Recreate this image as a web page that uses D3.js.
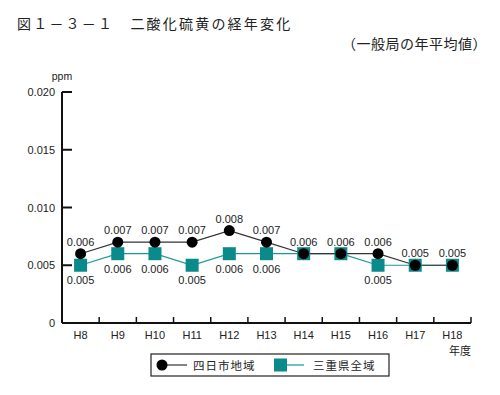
<!DOCTYPE html>
<html>
<head>
<meta charset="utf-8">
<script src="https://cdn.jsdelivr.net/npm/d3@7"></script>
<style>
	body{margin:0;background:#fff;}
	svg{display:block;}
	text{font-family:'Liberation Sans',Arial,sans-serif;fill:#222;}
	.jp{font-family:'Noto Sans CJK JP',sans-serif;}
</style>
</head>
<body>
<svg id="chart" width="500" height="395"></svg>
<script>
const years = ['H8','H9','H10','H11','H12','H13','H14','H15','H16','H17','H18']
const yokkaichi = [0.006,0.007,0.007,0.007,0.008,0.007,0.006,0.006,0.006,0.005,0.005]
const mie = [0.005,0.006,0.006,0.005,0.006,0.006,0.006,0.006,0.005,0.005,0.005]
const yTicks = [0,0.005,0.010,0.015,0.020]
const seriesNames = ['四日市地域','三重県全域']

const svg = d3.select('#chart')

/*titles*/
svg.append('text').classed('jp',true)
	.attr('x',17).attr('y',29)
	.attr('font-size',14).attr('fill','#333')
	.attr('letter-spacing',2.2)
	.text('図１－３－１　二酸化硫黄の経年変化')
svg.append('text').classed('jp',true)
	.attr('x',487).attr('y',49)
	.attr('text-anchor','end')
	.attr('font-size',14).attr('fill','#333')
	.attr('letter-spacing',0.5)
	.text('（一般局の年平均値）')

const xScale = d3.scaleBand()
	.domain(years)
	.range([62,471])

const yScale = d3.scaleLinear()
	.domain([0,0.020])
	.range([323,92])

const cx = y => xScale(y) + xScale.bandwidth()/2

const chart = svg.append('g')

/*y axis*/
chart.append('line')
	.attr('x1',62).attr('x2',62)
	.attr('y1',yScale(0.020)).attr('y2',yScale(0))
	.attr('stroke','#111').attr('stroke-width',2)

chart.selectAll('.ytick')
	.data(yTicks.slice(1))
	.enter()
	.append('line')
	.attr('x1',62).attr('x2',72)
	.attr('y1',d => yScale(d)).attr('y2',d => yScale(d))
	.attr('stroke','#111').attr('stroke-width',2)

chart.selectAll('.ylabel')
	.data(yTicks)
	.enter()
	.append('text')
	.attr('x',55)
	.attr('y',d => yScale(d) + 4)
	.attr('text-anchor','end')
	.attr('font-size',11)
	.text(d => d === 0 ? '0' : d3.format('.3f')(d))

chart.append('text')
	.attr('x',62).attr('y',80)
	.attr('text-anchor','middle')
	.attr('font-size',10.5)
	.text('ppm')

/*x axis*/
chart.append('line')
	.attr('x1',62).attr('x2',471)
	.attr('y1',yScale(0)).attr('y2',yScale(0))
	.attr('stroke','#111').attr('stroke-width',2)

chart.selectAll('.xtick')
	.data(years.slice(1).concat(['end']))
	.enter()
	.append('line')
	.attr('x1',d => d === 'end' ? 471 : xScale(d))
	.attr('x2',d => d === 'end' ? 471 : xScale(d))
	.attr('y1',yScale(0)).attr('y2',yScale(0) - 6)
	.attr('stroke','#111').attr('stroke-width',1.5)

chart.selectAll('.xlabel')
	.data(years)
	.enter()
	.append('text')
	.attr('x',d => cx(d))
	.attr('y',339)
	.attr('text-anchor','middle')
	.attr('font-size',11)
	.text(d => d)

chart.append('text').classed('jp',true)
	.attr('x',460).attr('y',355)
	.attr('text-anchor','middle')
	.attr('font-size',11)
	.text('年度')

/*lines*/
const line = (vals) => d3.line()
	.x((d,i) => cx(years[i]))
	.y(d => yScale(d))(vals)

chart.append('path')
	.attr('d',line(mie))
	.attr('fill','none')
	.attr('stroke','#1a9a9a').attr('stroke-width',1.2)

chart.append('path')
	.attr('d',line(yokkaichi))
	.attr('fill','none')
	.attr('stroke','#333').attr('stroke-width',1.2)

chart.selectAll('.sq')
	.data(mie)
	.enter()
	.append('rect')
	.attr('x',(d,i) => cx(years[i]) - 6.5)
	.attr('y',d => yScale(d) - 6.5)
	.attr('width',13).attr('height',13)
	.attr('fill','#0a8a8a')

chart.selectAll('.dot')
	.data(yokkaichi)
	.enter()
	.append('circle')
	.attr('cx',(d,i) => cx(years[i]))
	.attr('cy',d => yScale(d))
	.attr('r',5.5)
	.attr('fill','#000')

/*value labels*/
chart.selectAll('.lab1')
	.data(yokkaichi)
	.enter()
	.append('text')
	.attr('x',(d,i) => cx(years[i]))
	.attr('y',d => yScale(d) - 8)
	.attr('text-anchor','middle')
	.attr('font-size',11)
	.text(d => d3.format('.3f')(d))

chart.selectAll('.lab2')
	.data(mie.map((v,i) => ({v:v,i:i})).filter(d => d.v !== yokkaichi[d.i]))
	.enter()
	.append('text')
	.attr('x',d => cx(years[d.i]))
	.attr('y',d => yScale(d.v) + 19)
	.attr('text-anchor','middle')
	.attr('font-size',11)
	.text(d => d3.format('.3f')(d.v))

/*legend*/
const legend = svg.append('g')
legend.append('rect')
	.attr('x',151).attr('y',354)
	.attr('width',238).attr('height',22)
	.attr('fill','#fff').attr('stroke','#222').attr('stroke-width',1.2)

legend.append('line')
	.attr('x1',162).attr('x2',187).attr('y1',365).attr('y2',365)
	.attr('stroke','#333').attr('stroke-width',1.2)
legend.append('circle')
	.attr('cx',162).attr('cy',365).attr('r',5.5).attr('fill','#000')
legend.append('text').classed('jp',true)
	.attr('x',193).attr('y',369.5)
	.attr('font-size',11.5).attr('fill','#444')
	.attr('letter-spacing',1)
	.text(seriesNames[0])

legend.append('line')
	.attr('x1',281).attr('x2',304).attr('y1',365).attr('y2',365)
	.attr('stroke','#1a9a9a').attr('stroke-width',1.2)
legend.append('rect')
	.attr('x',274).attr('y',358.5).attr('width',13).attr('height',13)
	.attr('fill','#0a8a8a')
legend.append('text').classed('jp',true)
	.attr('x',313).attr('y',369.5)
	.attr('font-size',11.5).attr('fill','#444')
	.attr('letter-spacing',1)
	.text(seriesNames[1])
</script>
</body>
</html>
